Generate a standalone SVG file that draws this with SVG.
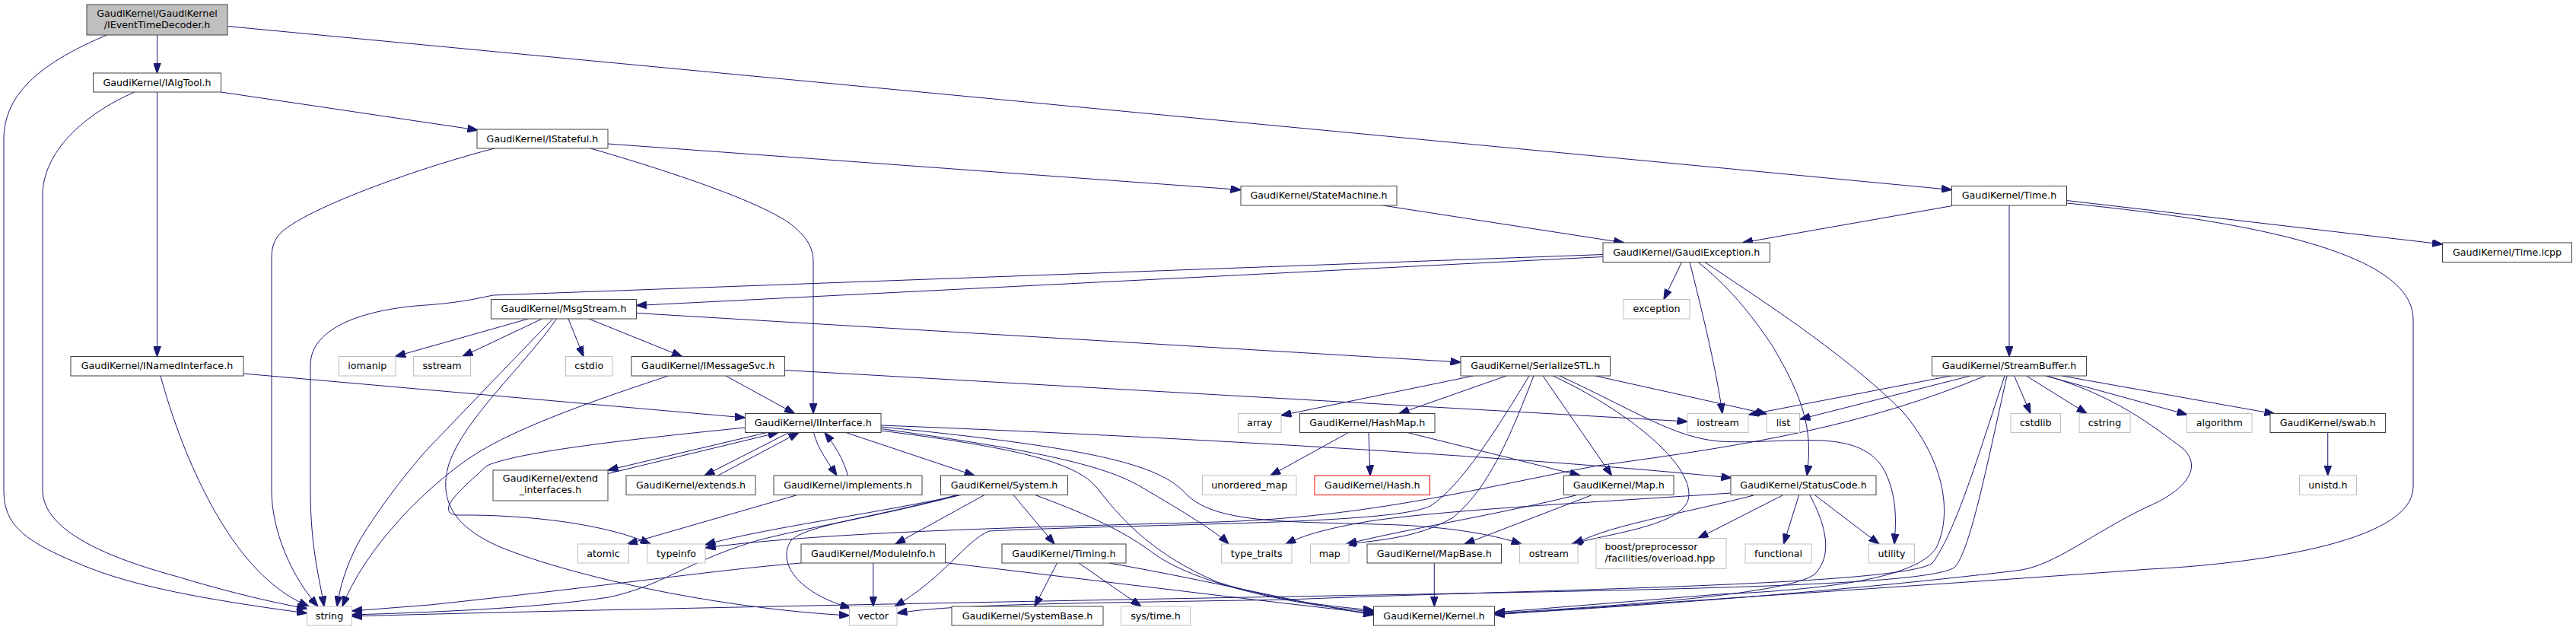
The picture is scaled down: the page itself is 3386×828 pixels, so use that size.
<svg xmlns="http://www.w3.org/2000/svg" width="3386" height="828" viewBox="0 0 3386 828">
<style>
.n rect{fill:#fff;stroke:#404040;stroke-width:1}
.s rect{fill:#fff;stroke:#bfbfbf;stroke-width:1}
.r rect{fill:#bfbfbf;stroke:#404040;stroke-width:1}
.h rect{fill:#fff;stroke:#ff0000;stroke-width:1}
text{font-family:"DejaVu Sans","Liberation Sans",sans-serif;font-size:12.7px;fill:#000;text-anchor:middle}
text.l{text-anchor:start}
#edges path{fill:none;stroke:#191970;stroke-width:1;marker-end:url(#a)}
</style>
<defs>
<marker id="a" viewBox="0 0 14 10" refX="13.5" refY="5" markerWidth="14" markerHeight="10" markerUnits="userSpaceOnUse" orient="auto">
<path d="M0,0 L14,5 L0,10 z" fill="#191970" stroke="#191970" stroke-width="1"/>
</marker>
</defs>
<rect x="0" y="0" width="3386" height="828" fill="#fff"/>
<g id="edges">
<path d="M206.5,46 L206.5,96"/>
<path d="M299,34.5 L2565.5,249.5"/>
<path d="M140.5,46 C60,80 5,120 5,183 L5,644 C5,690 30,712 119,747 C190,775 300,792 403.5,806"/>
<path d="M206.5,121 L206.5,468.5"/>
<path d="M290.5,121 L628,171"/>
<path d="M177,121 C110,150 56,200 56,257 L56,644 C56,700 150,735 230,757 C300,778 350,790 403.5,800"/>
<path d="M320,491 L979.5,549"/>
<path d="M211,494 C240,600 285,690 330,740 C355,768 378,785 406,797"/>
<path d="M776,195 C880,225 1000,265 1040,295 C1065,315 1069,330 1069,345 L1069,543.5"/>
<path d="M799,189 L1631,249.5"/>
<path d="M650,195 C560,218 410,270 370,305 C360,315 357,325 357,340 L357,644 C357,700 385,760 418,797"/>
<path d="M1817.5,270 L2134.5,319"/>
<path d="M2107,337.5 L836.5,401.5"/>
<path d="M2107,334.5 L648,388 C620,394 600,398 560,401 C480,406 408,430 408,480 L408,644 C408,720 420,760 426,797"/>
<path d="M2210.5,344.5 L2187,393.5"/>
<path d="M2221,344.5 C2235,400 2255,480 2264,543.5"/>
<path d="M2232,344.5 C2270,375 2300,410 2330,455 C2365,515 2385,560 2375,625"/>
<path d="M2241,344.5 C2300,385 2420,460 2500,540 C2560,610 2565,680 2545,720 C2520,760 2400,775 2260,781 L1964.5,805"/>
<path d="M2566,270.5 L2290.5,319"/>
<path d="M2641,270 L2641,468.5"/>
<path d="M2716.5,263.5 L3210.5,321"/>
<path d="M2716.5,267 C2950,290 3172,330 3172,420 L3172,640 C3172,715 2950,742 2825,748 C2600,765 2200,790 1964.5,808"/>
<path d="M694.5,419 L519.5,468.5"/>
<path d="M712.5,419 L608,468.5"/>
<path d="M747,419 L767,468.5"/>
<path d="M774,419 L896.5,468.5"/>
<path d="M836.5,411.5 L1920,476"/>
<path d="M726.5,419 L565,587 C530,625 490,680 470,715 C455,745 447,770 443,797"/>
<path d="M731.5,419 C690,480 610,550 590,610 C575,660 600,695 660,720 C760,760 950,800 1116.5,809"/>
<path d="M954,494 L1044.5,543.5"/>
<path d="M1031.5,486.5 L2218,554"/>
<path d="M878.5,494 C800,520 680,560 620,600 C560,640 480,720 450,797"/>
<path d="M1008,568.5 L799,618"/>
<path d="M799,622.5 L1023,568.5"/>
<path d="M1037,568.5 L926,625"/>
<path d="M943.5,625 L1050,568.5"/>
<path d="M1069.5,568.5 C1075,590 1088,607 1100,625"/>
<path d="M1114.5,625 C1108,602 1097,585 1084,568.5"/>
<path d="M1112,568.5 L1281,625"/>
<path d="M1158,559 C1500,572 2000,600 2276,628"/>
<path d="M1158,561 C1450,590 1525,612 1560,650 C1600,690 1700,685 1840,690 C1920,694 1970,705 2000,715"/>
<path d="M1158,563.5 C1350,590 1450,610 1500,640 C1560,675 1600,700 1615,715"/>
<path d="M1158,566 C1350,590 1420,610 1445,645 C1480,690 1520,730 1600,765 C1680,790 1750,797 1805.5,802"/>
<path d="M979.5,562 C800,580 680,595 640,612 C610,640 570,672 600,677 C700,676 800,690 855,715"/>
<path d="M1048,650.5 L824.5,715"/>
<path d="M1294,650.5 L1177,715"/>
<path d="M1332,650.5 L1386,715"/>
<path d="M1360.5,650.5 C1440,680 1480,700 1520,730 C1580,770 1700,795 1805.5,804"/>
<path d="M1260,651 C1150,680 1050,695 990,712 C900,740 870,770 800,785 C700,800 560,805 462.5,808"/>
<path d="M1263,650.5 C1150,675 1000,695 927,716"/>
<path d="M1256,651 C1150,680 1060,690 1040,710 C1020,740 1050,780 1118,799"/>
<path d="M1147.75,740 L1147.75,797"/>
<path d="M1053,740 C950,748 800,770 565,795 L462.5,803"/>
<path d="M1242,739.5 C1500,770 1700,795 1805.5,806"/>
<path d="M1389.5,740 L1360,797"/>
<path d="M1418,740 L1500,797"/>
<path d="M1458,740 C1600,765 1720,795 1805.5,808"/>
<path d="M1936.5,494 L1684,546"/>
<path d="M1980,494 L1839,543.5"/>
<path d="M2016,494 C1990,560 1960,640 1910,680 C1860,710 1800,710 1768,716"/>
<path d="M2028,494 L2118.5,625"/>
<path d="M2041,494 C2120,530 2220,600 2220,650 C2220,690 2120,700 2066,715"/>
<path d="M2010,494 C1970,560 1920,640 1880,665 C1830,690 1500,688 1300,698 C1270,710 1240,760 1176,797"/>
<path d="M2097,494 L2322.5,544"/>
<path d="M2050,494 C2150,540 2200,575 2260,580 C2350,585 2440,560 2475,615 C2495,650 2492,690 2490,715"/>
<path d="M1772.5,568.5 L1670,625"/>
<path d="M1799,568.5 L1801,625"/>
<path d="M1850,568.5 L2077,625"/>
<path d="M2071.5,651 C1950,680 1850,695 1770,715"/>
<path d="M2091.5,651 L1925,715"/>
<path d="M1885.25,740 L1885.25,797"/>
<path d="M2343,651 L2232,707.5"/>
<path d="M2305,651 C2250,665 2200,675 2160,685 C2110,697 2090,705 2068,715"/>
<path d="M2275,648 C2100,660 1900,670 1800,685 C1740,695 1710,705 1690,715"/>
<path d="M2364.5,651 L2344.5,715"/>
<path d="M2386,651 L2470,715"/>
<path d="M2379,651 C2400,690 2410,730 2385,755 C2350,780 2150,795 1964.5,806"/>
<path d="M2590,494 L2366,551"/>
<path d="M2564.5,494 L2299,545"/>
<path d="M2609.5,494 C2450,560 2300,585 2100,612 C1950,640 1800,680 1600,686 C1400,692 1100,697 927,720"/>
<path d="M2635,494 C2600,600 2570,700 2540,740 C2500,770 2000,775 1695,788 C1400,793 1250,794 1179,806"/>
<path d="M2638,494 C2610,620 2590,720 2570,745 C2540,770 2200,775 1695,784 C1200,793 700,803 462.5,810"/>
<path d="M2647.5,494 L2669,543.5"/>
<path d="M2663.5,494 L2743,543.5"/>
<path d="M2689,494 L2875,545"/>
<path d="M2710.5,494 L2990,544"/>
<path d="M2690.5,494 C2780,520 2830,560 2870,590 C2900,620 2860,650 2825,665 C2750,700 2700,745 2650,750 C2400,780 2100,800 1964.5,807"/>
<path d="M3059.75,568.5 L3059.75,625"/>
</g>
<g id="n_etd" class="r"><rect x="114" y="6" width="185" height="40"/><text x="206.5" y="21.5">GaudiKernel/GaudiKernel</text><text x="206.5" y="37">/IEventTimeDecoder.h</text></g>
<g id="n_ialgtool" class="n"><rect x="122.5" y="96" width="168" height="25"/><text x="206.5" y="112.5">GaudiKernel/IAlgTool.h</text></g>
<g id="n_istateful" class="n"><rect x="627" y="170" width="172" height="25"/><text x="713" y="186.5">GaudiKernel/IStateful.h</text></g>
<g id="n_statemachine" class="n"><rect x="1631" y="244.5" width="205" height="25.5"/><text x="1733.5" y="261">GaudiKernel/StateMachine.h</text></g>
<g id="n_time_h" class="n"><rect x="2565.5" y="244.5" width="151" height="25.5"/><text x="2641" y="261">GaudiKernel/Time.h</text></g>
<g id="n_gaudiexception" class="n"><rect x="2107" y="319" width="219.5" height="25.5"/><text x="2216.75" y="335.75">GaudiKernel/GaudiException.h</text></g>
<g id="n_time_icpp" class="n"><rect x="3210.5" y="319" width="170" height="25.5"/><text x="3295.5" y="335.75">GaudiKernel/Time.icpp</text></g>
<g id="n_msgstream" class="n"><rect x="645.5" y="393.5" width="191" height="25.5"/><text x="741" y="410">GaudiKernel/MsgStream.h</text></g>
<g id="n_exception" class="s"><rect x="2134" y="393.5" width="87" height="25.5"/><text x="2177.5" y="410">exception</text></g>
<g id="n_inamedinterface" class="n"><rect x="93" y="468.5" width="227" height="25.5"/><text x="206.5" y="485">GaudiKernel/INamedInterface.h</text></g>
<g id="n_iomanip" class="s"><rect x="445.5" y="468.5" width="74.5" height="25.5"/><text x="482.75" y="485">iomanip</text></g>
<g id="n_sstream" class="s"><rect x="543.5" y="468.5" width="75" height="25.5"/><text x="581" y="485">sstream</text></g>
<g id="n_cstdio" class="s"><rect x="743.5" y="468.5" width="61.5" height="25.5"/><text x="774.25" y="485">cstdio</text></g>
<g id="n_imessagesvc" class="n"><rect x="830" y="468.5" width="201.5" height="25.5"/><text x="930.75" y="485">GaudiKernel/IMessageSvc.h</text></g>
<g id="n_serializestl" class="n"><rect x="1920" y="468.5" width="196.5" height="25.5"/><text x="2018.25" y="485">GaudiKernel/SerializeSTL.h</text></g>
<g id="n_streambuffer" class="n"><rect x="2539.5" y="468.5" width="203" height="25.5"/><text x="2641" y="485">GaudiKernel/StreamBuffer.h</text></g>
<g id="n_iinterface" class="n"><rect x="979.5" y="543.5" width="178.5" height="25"/><text x="1068.75" y="560">GaudiKernel/IInterface.h</text></g>
<g id="n_array" class="s"><rect x="1627.5" y="543.5" width="56.5" height="25"/><text x="1655.75" y="560">array</text></g>
<g id="n_hashmap" class="n"><rect x="1708.5" y="543.5" width="177.5" height="25"/><text x="1797.25" y="560">GaudiKernel/HashMap.h</text></g>
<g id="n_iostream" class="s"><rect x="2218" y="543.5" width="80" height="25"/><text x="2258" y="560">iostream</text></g>
<g id="n_list" class="s"><rect x="2322.5" y="543.5" width="43" height="25"/><text x="2344" y="560">list</text></g>
<g id="n_cstdlib" class="s"><rect x="2643" y="543.5" width="65.5" height="25"/><text x="2675.75" y="560">cstdlib</text></g>
<g id="n_cstring" class="s"><rect x="2733" y="543.5" width="67" height="25"/><text x="2766.5" y="560">cstring</text></g>
<g id="n_algorithm" class="s"><rect x="2874.5" y="543.5" width="85.5" height="25"/><text x="2917.25" y="560">algorithm</text></g>
<g id="n_swab" class="n"><rect x="2984" y="543.5" width="151.5" height="25"/><text x="3059.75" y="560">GaudiKernel/swab.h</text></g>
<g id="n_extend_interfaces" class="n"><rect x="648" y="618" width="151" height="40"/><text x="723.5" y="633">GaudiKernel/extend</text><text x="723.5" y="648">_interfaces.h</text></g>
<g id="n_extends" class="n"><rect x="823" y="625" width="170" height="25.5"/><text x="908" y="641.5">GaudiKernel/extends.h</text></g>
<g id="n_implements" class="n"><rect x="1017" y="625" width="195" height="25.5"/><text x="1114.5" y="641.5">GaudiKernel/implements.h</text></g>
<g id="n_system" class="n"><rect x="1236.5" y="625" width="167" height="25.5"/><text x="1320" y="641.5">GaudiKernel/System.h</text></g>
<g id="n_unordered_map" class="s"><rect x="1580.5" y="625" width="123.5" height="25.5"/><text x="1642.25" y="641.5">unordered_map</text></g>
<g id="n_hash" class="h"><rect x="1728" y="625" width="151.5" height="25.5"/><text x="1803.75" y="641.5">GaudiKernel/Hash.h</text></g>
<g id="n_map_h" class="n"><rect x="2055.5" y="625" width="144.5" height="25.5"/><text x="2127.75" y="641.5">GaudiKernel/Map.h</text></g>
<g id="n_statuscode" class="n"><rect x="2275" y="625" width="191" height="25.5"/><text x="2370.5" y="641.5">GaudiKernel/StatusCode.h</text></g>
<g id="n_unistd" class="s"><rect x="3022.5" y="625" width="75" height="25.5"/><text x="3060" y="641.5">unistd.h</text></g>
<g id="n_atomic" class="s"><rect x="759.5" y="715" width="67" height="25"/><text x="793" y="731.5">atomic</text></g>
<g id="n_typeinfo" class="s"><rect x="851" y="715" width="76" height="25"/><text x="889" y="731.5">typeinfo</text></g>
<g id="n_moduleinfo" class="n"><rect x="1053" y="715" width="189.5" height="25"/><text x="1147.75" y="731.5">GaudiKernel/ModuleInfo.h</text></g>
<g id="n_timing" class="n"><rect x="1317" y="715" width="163" height="25"/><text x="1398.5" y="731.5">GaudiKernel/Timing.h</text></g>
<g id="n_type_traits" class="s"><rect x="1605.5" y="715" width="92.5" height="25"/><text x="1651.75" y="731.5">type_traits</text></g>
<g id="n_map" class="s"><rect x="1722.5" y="715" width="50.5" height="25"/><text x="1747.75" y="731.5">map</text></g>
<g id="n_mapbase" class="n"><rect x="1797" y="715" width="176.5" height="25"/><text x="1885.25" y="731.5">GaudiKernel/MapBase.h</text></g>
<g id="n_ostream" class="s"><rect x="1997.5" y="715" width="76.5" height="25"/><text x="2035.75" y="731.5">ostream</text></g>
<g id="n_boost" class="s"><rect x="2098" y="707.5" width="171" height="40"/><text class="l" x="2109.5" y="722.5">boost/preprocessor</text><text class="l" x="2109.5" y="737.5">/facilities/overload.hpp</text></g>
<g id="n_functional" class="s"><rect x="2294" y="715" width="87" height="25"/><text x="2337.5" y="731.5">functional</text></g>
<g id="n_utility" class="s"><rect x="2456.5" y="715" width="60" height="25"/><text x="2486.5" y="731.5">utility</text></g>
<g id="n_string" class="s"><rect x="403.5" y="797" width="59" height="25"/><text x="433" y="813.5">string</text></g>
<g id="n_vector" class="s"><rect x="1116.5" y="797" width="62.5" height="25"/><text x="1147.75" y="813.5">vector</text></g>
<g id="n_systembase" class="n"><rect x="1251" y="797" width="199" height="25"/><text x="1350.5" y="813.5">GaudiKernel/SystemBase.h</text></g>
<g id="n_systime" class="s"><rect x="1473.5" y="797" width="91" height="25"/><text x="1519" y="813.5">sys/time.h</text></g>
<g id="n_kernel" class="n"><rect x="1805.5" y="797" width="159" height="25"/><text x="1885" y="813.5">GaudiKernel/Kernel.h</text></g>
</svg>
